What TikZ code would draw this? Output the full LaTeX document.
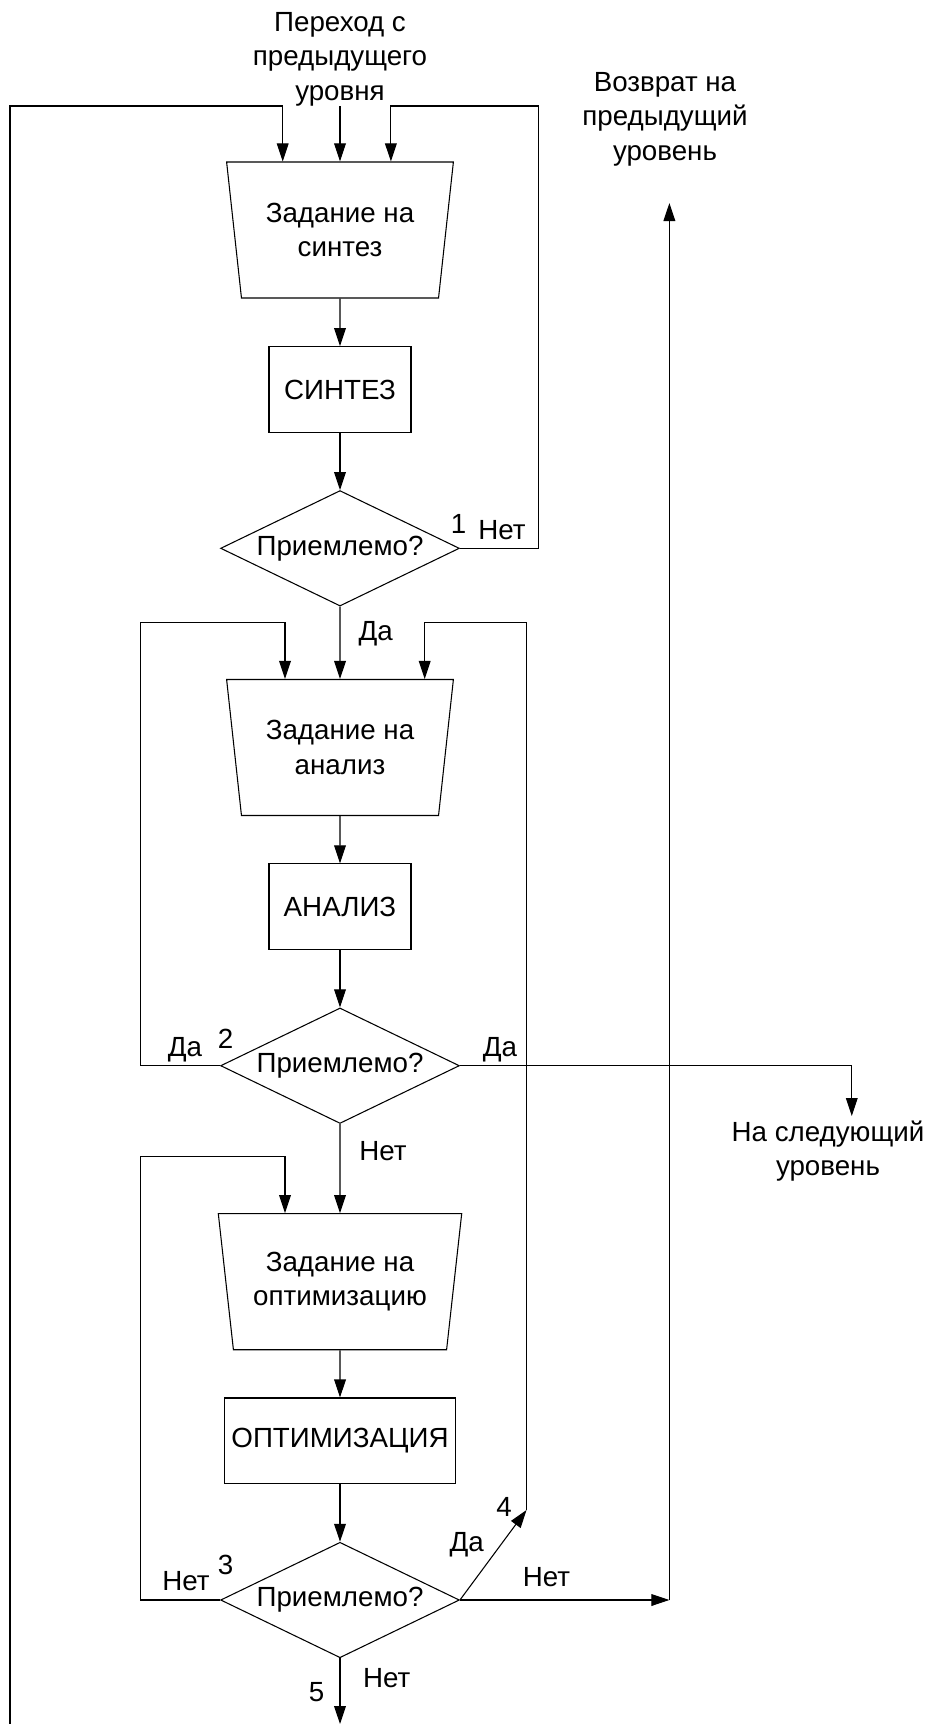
\documentclass[tikz,border=0pt]{standalone}
\usepackage{fontspec}
\setmainfont{Liberation Sans}
\usetikzlibrary{shapes.geometric,arrows.meta}
\begin{document}
\begin{tikzpicture}[x=0.75pt,y=-0.75pt, line width=0.8pt,
  >={Triangle[length=13.5pt,width=8.8pt]},
  every node/.style={font=\fontsize{20.8}{25.7}\selectfont},
  txt/.style={align=center, inner sep=0pt},
  proc/.style={draw, rectangle, inner sep=0pt, minimum height=64.2pt},
  task/.style={draw, trapezium, trapezium stretches=true,
    trapezium left angle=101.73, trapezium right angle=101.73,
    minimum height=102pt, align=center, inner sep=0pt},
  dec/.style={draw, diamond, aspect=2.07, inner sep=0pt,
    minimum width=179.1pt, minimum height=86.6pt},
  lbl/.style={anchor=base, inner sep=0pt}]
\useasboundingbox (0,0) rectangle (931,1724);

% texts
\node[txt] (entry) at (340,59.2) {Переход с\\предыдущего\\уровня};
\node[txt] (back) at (665,119.2) {Возврат на\\предыдущий\\уровень};
\node[txt] (next) at (828,1151.2) {На следующий\\уровень};

% blocks
\node[task, minimum width=170.25pt] (t1) at (340,230) {Задание на\\синтез};
\node[proc, minimum width=106.5pt] (p1) at (340,389.5) {СИНТЕЗ};
\node[dec] (d1) at (340,548.3) {Приемлемо?};

\node[task, minimum width=170.25pt] (t2) at (340,747.5) {Задание на\\анализ};
\node[proc, minimum width=106.5pt] (p2) at (340,906.7) {АНАЛИЗ};
\node[dec] (d2) at (340,1065.7) {Приемлемо?};

\node[task, minimum width=182.6pt] (t3) at (340,1281.7) {Задание на\\оптимизацию};
\node[proc, minimum width=172.9pt] (p3) at (340,1440.8) {ОПТИМИЗАЦИЯ};
\node[dec] (d3) at (340,1600) {Приемлемо?};

% coordinates
\coordinate (c1) at (10,1724);
\coordinate (l1) at (10,106);
\coordinate (a1) at (282.7,106);
\coordinate (r1) at (538.8,106);
\coordinate (a3) at (390.9,106);
\coordinate (l2) at (140.2,622.7);
\coordinate (a4) at (285,622.7);
\coordinate (r2) at (526.5,1510);
\coordinate (r2top) at (526.5,622.7);
\coordinate (a5) at (424.7,622.7);
\coordinate (n1) at (851.8,1065.7);
\coordinate (n2) at (851.8,1116);
\coordinate (l3) at (140.2,1156.7);
\coordinate (a6) at (285,1156.7);
\coordinate (b1) at (669.4,1600);
\coordinate (b2) at (669.4,203);
\coordinate (ex) at (340,1724);
\coordinate (e0) at (340,106);

% connectors
\draw[->] (e0) -- (e0 |- t1.north);
\draw[->] (c1) -- (l1) -- (a1) -- (a1 |- t1.north);
\draw[->] (d1.east) -- (d1.east -| r1) -- (r1) -- (a3) -- (a3 |- t1.north);
\draw[->] (t1.south) -- (p1.north);
\draw[->] (p1.south) -- (d1.north);
\draw[->] (d1.south) -- (t2.north);

\draw[->] (d2.west) -- (d2.west -| l2) -- (l2) -- (a4) -- (a4 |- t2.north);
\draw[->] (r2) -- (r2top) -- (a5) -- (a5 |- t2.north);
\draw[->] (t2.south) -- (p2.north);
\draw[->] (p2.south) -- (d2.north);
\draw[->] (d2.east) -- (n1) -- (n2);
\draw[->] (d2.south) -- (t3.north);

\draw[->] (d3.west) -- (d3.west -| l3) -- (l3) -- (a6) -- (a6 |- t3.north);
\draw[->] (t3.south) -- (p3.north);
\draw[->] (p3.south) -- (d3.north);
\draw[->] (d3.east) -- (r2);
\draw[->] (d3.east) -- (b1);
\draw[->] (b1) -- (b2);
\draw[->] (d3.south) -- (ex);

% labels
\node[lbl] (k1) at (458.6,533) {1};
\node[lbl] (k1n) at (502,539.3) {Нет};
\node[lbl] (k1y) at (375.8,640) {Да};
\node[lbl] (k2) at (225.6,1048) {2};
\node[lbl] (k2l) at (185,1056) {Да};
\node[lbl] (k2r) at (500,1056) {Да};
\node[lbl] (k2n) at (383,1160) {Нет};
\node[lbl] (k3l) at (186,1590) {Нет};
\node[lbl] (k3) at (225.7,1574) {3};
\node[lbl] (k4) at (504,1516.7) {4};
\node[lbl] (k4y) at (466.7,1551.7) {Да};
\node[lbl] (k3r) at (546.5,1586) {Нет};
\node[lbl] (k5n) at (386.7,1687) {Нет};
\node[lbl] (k5) at (316.6,1701.7) {5};
\end{tikzpicture}
\end{document}
